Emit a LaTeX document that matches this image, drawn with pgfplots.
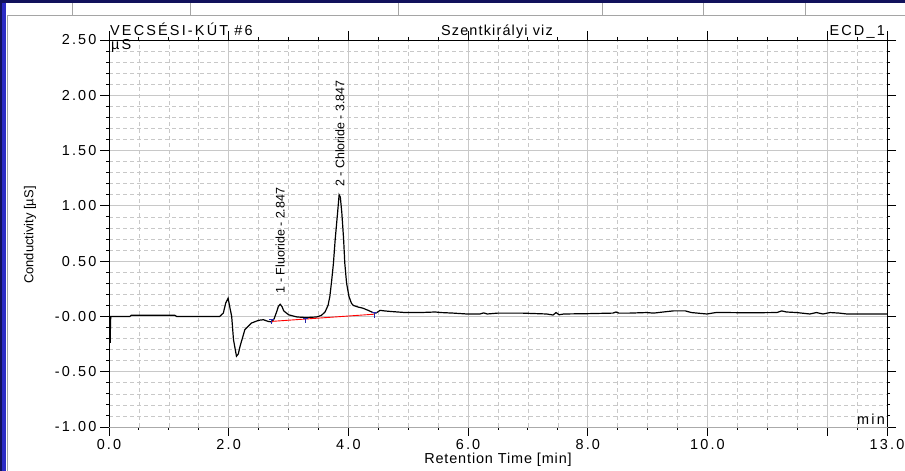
\documentclass[border=0pt]{standalone}
\usepackage{fontspec}
\setmainfont{Liberation Sans}
\newfontfamily\spfont[LetterSpace=15]{Liberation Sans}
\newfontfamily\spfontb[LetterSpace=8]{Liberation Sans}
\newfontfamily\spfontc[LetterSpace=6]{Liberation Sans}
\usepackage{pgfplots}
\pgfplotsset{compat=1.18}
\definecolor{gridgray}{RGB}{200,200,200}
\definecolor{axgray}{RGB}{170,170,170}
\definecolor{frameblue}{RGB}{44,44,196}
\definecolor{navy}{RGB}{18,18,92}
\definecolor{sepgray}{RGB}{165,165,165}
\definecolor{markblue}{RGB}{40,40,170}
\pgfdeclareplotmark{tee}{%
 \pgfpathmoveto{\pgfqpoint{-\pgfplotmarksize}{\pgfplotmarksize}}%
 \pgfpathlineto{\pgfqpoint{\pgfplotmarksize}{\pgfplotmarksize}}%
 \pgfpathmoveto{\pgfqpoint{0pt}{\pgfplotmarksize}}%
 \pgfpathlineto{\pgfqpoint{0pt}{-\pgfplotmarksize}}%
 \pgfusepathqstroke}
\begin{document}
\begin{tikzpicture}[x=1bp,y=1bp]
\useasboundingbox (0,0) rectangle (905,471);
\fill[white] (0,0) rectangle (905,471);
\fill[frameblue] (0,0) rectangle (6,471);
\fill[navy] (0,0) rectangle (2,471);
\fill[navy] (0,468) rectangle (905,471);
\draw[sepgray, line width=1bp] (7,0) -- (7,455) -- (905,455);
\foreach \sx in {72,190,398,602,703,805} {\draw[sepgray, line width=1bp] (\sx,456) -- (\sx,468);}
\begin{axis}[
  at={(109bp,44bp)}, anchor=south west,
  scale only axis, width=778bp, height=387bp,
  xmin=0, xmax=13, ymin=-1, ymax=2.5,
  clip=false,
  axis line style={axgray, line width=0.9bp},
  xtick={0,2,4,6,8,10,12,13},
  xticklabels={0.0,2.0,4.0,6.0,8.0,10.0,,13.0},
  minor xtick={0.5,1,...,12.5},
  ytick={-1,-0.5,0,0.5,1,1.5,2,2.5},
  yticklabels={-1.00,-0.50,-0.00,0.50,1.00,1.50,2.00,2.50},
  minor y tick num=4,
  grid=both,
  major grid style={gridgray, line width=0.8bp},
  minor grid style={gridgray, dash pattern=on 4bp off 3bp, line width=0.6bp},
  tick align=outside,
  major tick length=9bp,
  minor tick length=3bp,
  tick style={black, line width=0.9bp},
  /pgf/number format/assume math mode=true,
  tick label style={font=\spfont\fontsize{14.5}{17}\selectfont},
  xlabel={Retention Time [min]},
  xlabel style={font=\spfontc\fontsize{14.5}{17}\selectfont, at={(axis description cs:0.5,-0.085)}, anchor=center},
  ylabel={Conductivity [µS]},
  ylabel style={font=\fontsize{13}{15}\selectfont, at={(axis description cs:-0.1015,0.496)}, anchor=center},
]
\addplot[black, line width=1.2bp] coordinates {
(0,0) (0.015,0) (0.02,-0.24) (0.025,-0.05) (0.03,0) (0.35,0) (0.37,0.01) (1.1,0.01) (1.13,0)
(1.85,0) (1.91,0.03) (1.95,0.12) (1.99,0.165) (2.02,0.08) (2.05,0) (2.08,-0.21) (2.13,-0.36)
(2.16,-0.34) (2.19,-0.27) (2.27,-0.12) (2.38,-0.06) (2.5,-0.035) (2.58,-0.03) (2.66,-0.045)
(2.72,-0.05) (2.76,-0.02) (2.80,0.04) (2.83,0.09) (2.86,0.11) (2.89,0.09) (2.92,0.05) (3.0,0.015)
(3.14,-0.005) (3.3,-0.01) (3.47,-0.005) (3.55,0.01) (3.61,0.04) (3.66,0.1) (3.69,0.18) (3.72,0.32)
(3.75,0.48) (3.78,0.7) (3.82,0.94) (3.845,1.10) (3.865,1.08) (3.89,0.94) (3.92,0.7) (3.94,0.48)
(3.97,0.3) (4.01,0.18) (4.05,0.12) (4.08,0.10) (4.16,0.085) (4.24,0.075) (4.33,0.055) (4.41,0.035)
(4.46,0.03) (4.53,0.055) (4.6,0.05) (4.7,0.045) (4.95,0.035) (5.2,0.035) (5.45,0.04) (5.55,0.035)
(5.75,0.03) (5.98,0.022) (6.2,0.022) (6.26,0.032) (6.32,0.022) (6.5,0.03) (6.9,0.03) (7.31,0.022)
(7.42,0.013) (7.47,0.035) (7.52,0.015) (7.6,0.022) (8.0,0.025) (8.42,0.03) (8.47,0.04) (8.52,0.03)
(8.7,0.03) (8.98,0.035) (9.1,0.03) (9.26,0.04) (9.43,0.05) (9.63,0.05) (9.73,0.035) (9.99,0.022)
(10.14,0.035) (10.3,0.035) (10.7,0.033) (11.16,0.035) (11.24,0.05) (11.32,0.04) (11.49,0.035)
(11.71,0.022) (11.82,0.035) (11.93,0.022) (12.05,0.035) (12.2,0.03) (12.33,0.022) (13.0,0.022)
};
\addplot[red, line width=0.9bp] coordinates {(2.72,-0.045) (4.43,0.02)};
\addplot[only marks, mark=tee, mark size=2.5bp, markblue, line width=0.9bp] coordinates {(2.72,-0.05) (3.29,-0.04) (4.43,0.012)};
\node[rotate=90, anchor=west, inner sep=0pt, font=\fontsize{12.5}{14}\selectfont] at (axis cs:2.86,0.21) {1 - Fluoride - 2.847};
\node[rotate=90, anchor=west, inner sep=0pt, font=\fontsize{12.5}{14}\selectfont] at (axis cs:3.86,1.17) {2 - Chloride - 3.847};
\draw[black, line width=0.9bp] (rel axis cs:0,0) -- (rel axis cs:0,1) -- (rel axis cs:1,1) -- (rel axis cs:1,0) -- ++(0,-9bp);
\end{axis}
\node[anchor=base west, inner sep=0pt, font=\spfont\fontsize{14.5}{17}\selectfont] at (110,435) {VECSÉSI-KÚT \#6};
\node[anchor=base, inner sep=0pt, font=\spfontb\fontsize{14.5}{17}\selectfont] at (497,435) {Szentkirályi viz};
\node[anchor=base east, inner sep=0pt, font=\spfont\fontsize{14.5}{17}\selectfont] at (885,435) {ECD\_1};
\node[anchor=north west, inner sep=0pt, font=\spfont\fontsize{14.5}{17}\selectfont] at (111,432) {µS};
\node[anchor=base east, inner sep=0pt, font=\spfont\fontsize{14.5}{17}\selectfont] at (885,46) {min};
\end{tikzpicture}
\end{document}
